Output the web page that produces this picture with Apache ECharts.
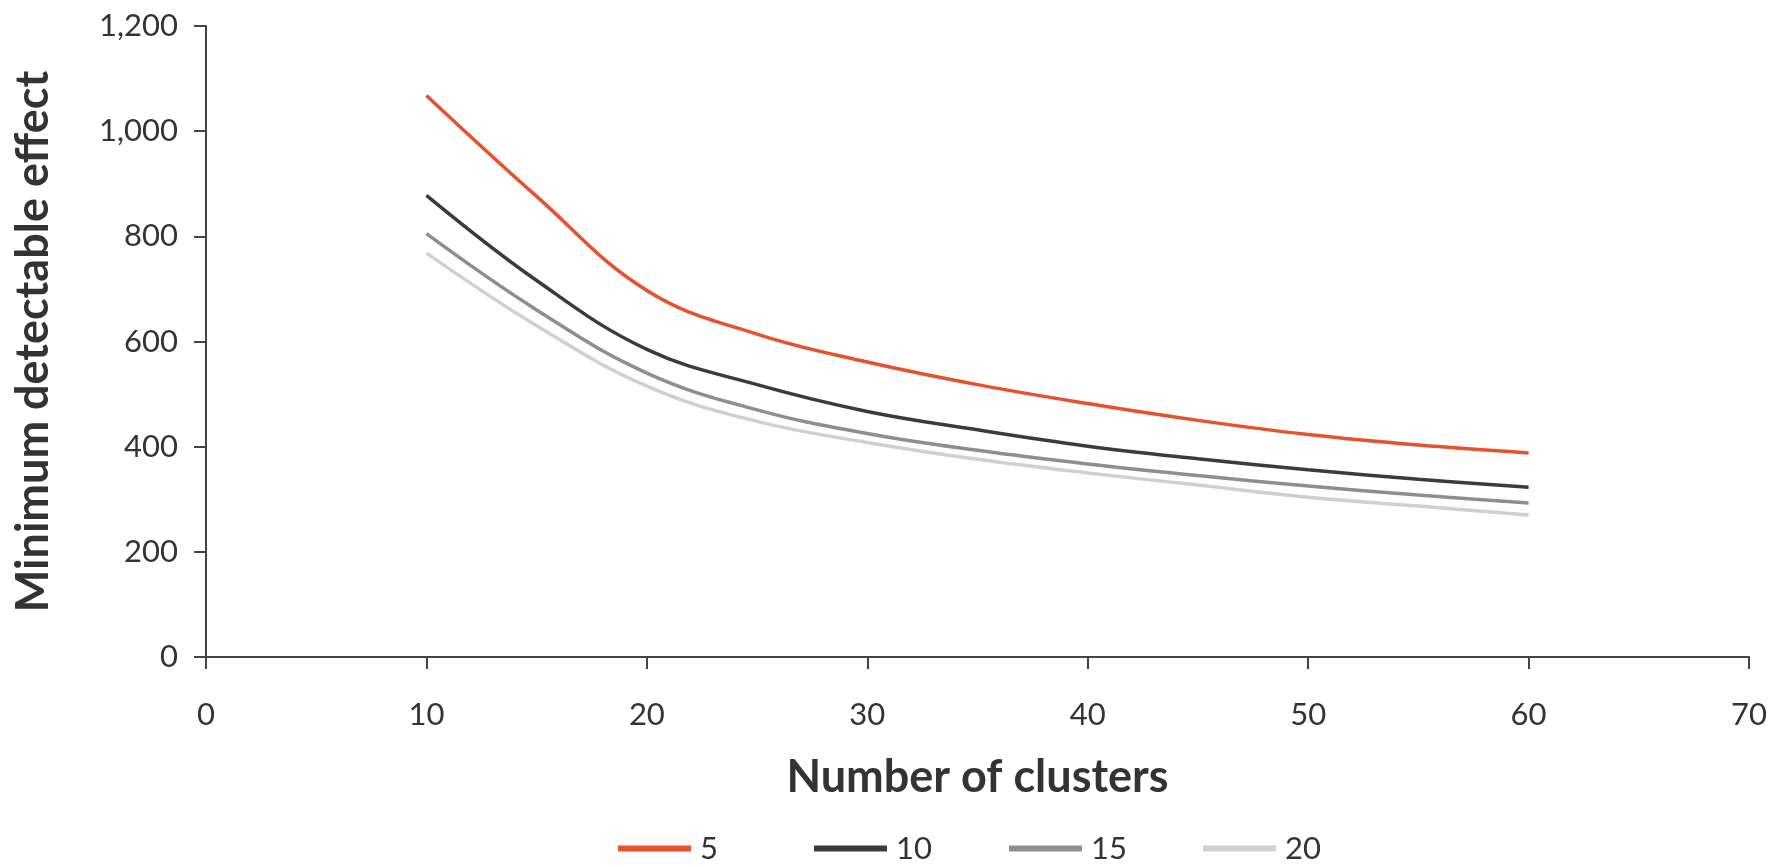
<!DOCTYPE html>
<html>
<head>
<meta charset="utf-8">
<script src="https://cdn.jsdelivr.net/npm/echarts@6/dist/echarts.min.js"></script>
<style>
  html, body { margin: 0; padding: 0; background: #fff; }
  #chart { width: 1785px; height: 867px; }
</style>
</head>
<body>
<div id="chart"></div>
<script>
// Number of clusters (x) at which each curve is sampled
const clusters = [10, 15, 20, 25, 30, 35, 40, 45, 50, 55, 60];

// Minimum detectable effect by cluster size
const mde5  = [1068, 876, 697, 614, 561, 518, 482, 450, 423, 403, 388];
const mde10 = [878, 716, 585, 518, 467, 432, 401, 377, 356, 338, 323];
const mde15 = [805, 660, 540, 470, 425, 393, 367, 345, 325, 308, 293];
const mde20 = [768, 630, 515, 448, 408, 376, 350, 327, 304, 287, 270];

const seriesNames = ['5', '10', '15', '20'];
const seriesColors = ['#e9502c', '#3b3b3b', '#8e8e8e', '#d0d0d0'];

const FONT = 'Lato, "Open Sans", sans-serif';
const AXIS = '#444444';

function pairs(ys) {
  return clusters.map((x, i) => [x, ys[i]]);
}

const allValues = [mde5, mde10, mde15, mde20];

// One legend per entry so the keys sit on an even spacing
const legendLeft = [613, 809, 1004, 1198];
const legends = seriesNames.map((name, i) => ({
  left: legendLeft[i],
  top: 828,
  icon: 'rect',
  itemWidth: 73,
  itemHeight: 6,
  textStyle: { fontFamily: FONT, fontSize: 31, color: '#333', padding: [0, 0, 0, 4] },
  data: [name]
}));

const chart = echarts.init(document.getElementById('chart'), null, { renderer: 'canvas' });

chart.setOption({
  animation: false,
  backgroundColor: '#ffffff',
  grid: { left: 206, right: 36, top: 26, bottom: 210, containLabel: false },
  legend: legends,
  xAxis: {
    type: 'value',
    min: 0,
    max: 70,
    interval: 10,
    name: 'Number of clusters',
    nameLocation: 'middle',
    nameGap: 98,
    nameTextStyle: { fontFamily: FONT, fontSize: 45, fontWeight: 'bold', color: '#333' },
    axisLine: { show: true, onZero: false, lineStyle: { color: AXIS, width: 2 } },
    axisTick: { show: true, inside: false, length: 12, lineStyle: { color: AXIS, width: 2 } },
    axisLabel: { margin: 42, fontFamily: FONT, fontSize: 31, color: '#333' },
    splitLine: { show: false }
  },
  yAxis: {
    type: 'value',
    min: 0,
    max: 1200,
    interval: 200,
    name: 'Minimum detectable effect',
    nameLocation: 'middle',
    nameGap: 150,
    nameTextStyle: { fontFamily: FONT, fontSize: 45, fontWeight: 'bold', color: '#333' },
    axisLine: { show: true, lineStyle: { color: AXIS, width: 2 } },
    axisTick: { show: true, inside: false, length: 12, lineStyle: { color: AXIS, width: 2 } },
    axisLabel: {
      margin: 28,
      fontFamily: FONT,
      fontSize: 31,
      color: '#333',
      formatter: v => v.toLocaleString('en-US')
    },
    splitLine: { show: false }
  },
  series: seriesNames.map((name, i) => ({
    name,
    type: 'line',
    data: pairs(allValues[i]),
    smooth: 0.4,
    showSymbol: false,
    symbol: 'none',
    color: seriesColors[i],
    lineStyle: { color: seriesColors[i], width: 3.5 },
    z: 10 - i
  }))
});
</script>
</body>
</html>
